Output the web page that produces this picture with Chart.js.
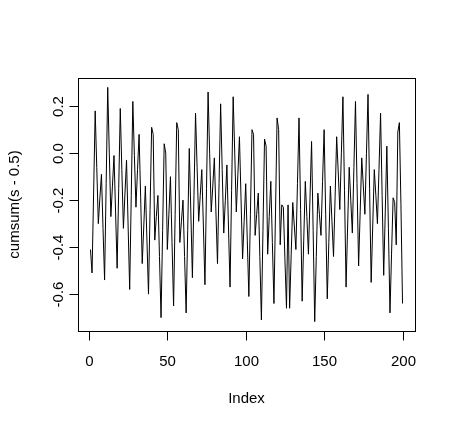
<!DOCTYPE html>
<html>
<head>
<meta charset="utf-8">
<title>cumsum(s - 0.5)</title>
<script src="https://cdn.jsdelivr.net/npm/chart.js@4/dist/chart.umd.min.js"></script>
<style>
	html, body { margin: 0; padding: 0; background: #ffffff; }
	#chart-container { width: 455px; height: 429px; }
</style>
</head>
<body>
<div id="chart-container"><canvas id="cumsum-chart" width="455" height="429"></canvas></div>
<script>
"use strict";

// series values, index 1..200
var cumsumValues = [
	-0.41, -0.51, -0.17, 0.18, -0.06, -0.30, -0.19, -0.09, -0.32, -0.54,
	-0.13, 0.28, 0.00, -0.27, -0.14, -0.01, -0.25, -0.49, -0.15, 0.19,
	-0.07, -0.32, -0.17, -0.03, -0.31, -0.58, -0.18, 0.22, -0.01, -0.23,
	-0.07, 0.08, -0.19, -0.47, -0.31, -0.14, -0.37, -0.60, -0.24, 0.11,
	0.08, -0.37, -0.27, -0.18, -0.44, -0.70, -0.33, 0.04, 0.00, -0.41,
	-0.26, -0.10, -0.38, -0.65, -0.26, 0.13, 0.10, -0.38, -0.29, -0.20,
	-0.44, -0.68, -0.33, 0.02, -0.25, -0.53, -0.18, 0.17, -0.06, -0.29,
	-0.18, -0.07, -0.31, -0.56, -0.15, 0.26, 0.00, -0.25, -0.14, -0.02,
	-0.25, -0.47, -0.13, 0.21, -0.07, -0.34, -0.20, -0.05, -0.31, -0.57,
	-0.16, 0.24, 0.00, -0.25, -0.09, 0.07, -0.19, -0.45, -0.29, -0.13,
	-0.37, -0.61, -0.26, 0.10, 0.08, -0.35, -0.26, -0.17, -0.44, -0.71,
	-0.33, 0.06, 0.03, -0.43, -0.27, -0.12, -0.38, -0.64, -0.25, 0.15,
	0.10, -0.39, -0.22, -0.23, -0.45, -0.66, -0.22, -0.66, -0.43, -0.21,
	-0.31, -0.41, -0.13, 0.15, -0.24, -0.63, -0.37, -0.12, -0.27, -0.43,
	-0.19, 0.05, -0.33, -0.717, -0.44, -0.17, -0.26, -0.35, -0.12, 0.10,
	-0.26, -0.62, -0.38, -0.14, -0.29, -0.44, -0.19, 0.07, -0.08, -0.24,
	0.00, 0.24, -0.16, -0.57, -0.31, -0.06, -0.20, -0.34, -0.06, 0.22,
	-0.13, -0.48, -0.25, -0.02, -0.14, -0.26, 0.00, 0.25, -0.15, -0.55,
	-0.31, -0.07, -0.18, -0.30, -0.07, 0.17, -0.18, -0.52, -0.25, 0.03,
	-0.32, -0.68, -0.43, -0.19, -0.21, -0.39, 0.09, 0.13, -0.22, -0.64
];

// axis ticks and labels
var xTicks = [0, 50, 100, 150, 200];
var xTickLabels = ["0", "50", "100", "150", "200"];
var yTicks = [-0.6, -0.4, -0.2, 0.0, 0.2];
var yTickLabels = ["-0.6", "-0.4", "-0.2", "0.0", "0.2"];
var xTitle = "Index";
var yTitle = "cumsum(s - 0.5)";

var fontFamily = "'Liberation Sans', Arial, Helvetica, sans-serif";

// build the point list - x is just the index like R's plot(y)
var points = [];
for (var i = 0; i < cumsumValues.length; i++) {
	points.push({ x: i + 1, y: cumsumValues[i] });
}

// R extends the range by 4% on each side
var yMinData = Math.min.apply(null, cumsumValues);
var yMaxData = Math.max.apply(null, cumsumValues);
var yPad = (yMaxData - yMinData) * 0.04;
var xPad = (cumsumValues.length - 1) * 0.04;

// draws the R style box, ticks and labels using the chart scales
var baseAxesPlugin = {
	id: "baseAxes",
	afterDraw: function(chart) {
		var ctx = chart.ctx;
		var area = chart.chartArea;
		var xScale = chart.scales.x;
		var yScale = chart.scales.y;
		var tickLen = 9;

		ctx.save();
		ctx.strokeStyle = "#000000";
		ctx.lineWidth = 1;
		// box
		ctx.strokeRect(Math.round(area.left) + 0.5, Math.round(area.top) + 0.5,
			Math.round(area.right - area.left), Math.round(area.bottom - area.top));

		ctx.fillStyle = "#000000";
		ctx.font = "15px " + fontFamily;

		// x axis ticks
		var yb = Math.round(area.bottom) + 0.5;
		ctx.textAlign = "center";
		ctx.textBaseline = "middle";
		for (var i = 0; i < xTicks.length; i++) {
			var px = Math.round(xScale.getPixelForValue(xTicks[i])) + 0.5;
			ctx.beginPath();
			ctx.moveTo(px, yb);
			ctx.lineTo(px, yb + tickLen);
			ctx.stroke();
			ctx.fillText(xTickLabels[i], px, area.bottom + 31);
		}

		// y axis ticks - labels are rotated like las=0
		var xl = Math.round(area.left) + 0.5;
		for (var j = 0; j < yTicks.length; j++) {
			var py = Math.round(yScale.getPixelForValue(yTicks[j])) + 0.5;
			ctx.beginPath();
			ctx.moveTo(xl, py);
			ctx.lineTo(xl - tickLen, py);
			ctx.stroke();
			ctx.save();
			ctx.translate(area.left - 19, py);
			ctx.rotate(-Math.PI / 2);
			ctx.fillText(yTickLabels[j], 0, 0);
			ctx.restore();
		}

		// axis titles
		ctx.fillText(xTitle, (area.left + area.right) / 2, area.bottom + 68);
		ctx.save();
		ctx.translate(area.left - 63, (area.top + area.bottom) / 2);
		ctx.rotate(-Math.PI / 2);
		ctx.fillText(yTitle, 0, 0);
		ctx.restore();

		ctx.restore();
	}
};

var ctx = document.getElementById("cumsum-chart").getContext("2d");
var cumsumChart = new Chart(ctx, {
	type: "line",
	data: {
		datasets: [{
			label: yTitle,
			data: points,
			borderColor: "#000000",
			borderWidth: 1,
			pointRadius: 0,
			tension: 0,
			fill: false
		}]
	},
	options: {
		responsive: false,
		animation: false,
		devicePixelRatio: 1,
		layout: {
			padding: { left: 78, top: 78, right: 40, bottom: 98 }
		},
		plugins: {
			legend: { display: false },
			tooltip: { enabled: false }
		},
		scales: {
			x: {
				type: "linear",
				display: false,
				min: 1 - xPad,
				max: cumsumValues.length + xPad
			},
			y: {
				type: "linear",
				display: false,
				min: yMinData - yPad,
				max: yMaxData + yPad
			}
		}
	},
	plugins: [baseAxesPlugin]
});
</script>
</body>
</html>
